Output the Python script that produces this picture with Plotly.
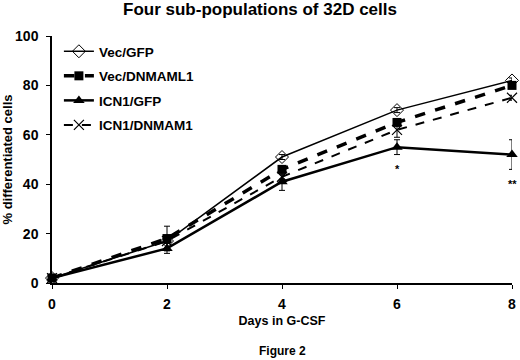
import plotly.graph_objects as go

days = [0, 2, 4, 6, 8]
series_names = ["Vec/GFP", "Vec/DNMAML1", "ICN1/GFP", "ICN1/DNMAM1"]
vec_gfp = [2, 17, 51, 70, 82]
vec_dnmaml1 = [2, 18, 46, 65, 80]
icn1_gfp = [2, 14, 41, 55, 52]
icn1_dnmam1 = [2, 17, 43, 62, 75]
vec_gfp_err = [1, 1, 1, 1, 1]
vec_dnmaml1_err = [1, 5, 1, 1, 1]
icn1_gfp_err = [1, 2, 3.5, 3, 6]
icn1_dnmam1_err = [1, 1, 1, 3, 1]
sig_days = [6, 8]
sig_labels = ["*", "**"]
sig_y = [46, 40]
y_ticks = [0, 20, 40, 60, 80, 100]

font_family = "Liberation Sans, Arial, sans-serif"

styles = [
    dict(line=dict(color="black", width=1.5), marker=dict(symbol="diamond-open", size=10, color="black", line=dict(width=1))),
    dict(line=dict(color="black", width=3.5, dash="dash"), marker=dict(symbol="square", size=9, color="black")),
    dict(line=dict(color="black", width=2.5), marker=dict(symbol="triangle-up", size=10, color="black")),
    dict(line=dict(color="black", width=2, dash="dash"), marker=dict(symbol="x-thin-open", size=10, color="black", line=dict(width=1.2, color="black"))),
]
values = [vec_gfp, vec_dnmaml1, icn1_gfp, icn1_dnmam1]
errs = [vec_gfp_err, vec_dnmaml1_err, icn1_gfp_err, icn1_dnmam1_err]

fig = go.Figure()
for name, vals, err, st in zip(series_names, values, errs, styles):
    fig.add_trace(go.Scatter(
        x=days, y=vals, name="<b>" + name + "</b>", mode="lines+markers",
        line=st["line"], marker=st["marker"],
        error_y=dict(type="data", array=err, color="black", thickness=1, width=3),
        cliponaxis=False, legendgroup=name,
    ))

for d, lab, yy in zip(sig_days, sig_labels, sig_y):
    fig.add_annotation(x=d, y=yy, text="<b>" + lab + "</b>", showarrow=False,
                       font=dict(size=11, color="black", family=font_family))

fig.update_layout(
    width=520, height=360,
    margin=dict(l=52, r=8, t=36, b=77),
    paper_bgcolor="white", plot_bgcolor="white",
    font=dict(family=font_family, color="black", size=12),
    title=dict(text="<b>Four sub-populations of 32D cells</b>", x=0.5, xanchor="center",
               y=1 - 9 / 360, yanchor="middle", font=dict(size=17)),
    showlegend=True,
    legend=dict(x=0.015, y=1.0, xanchor="left", yanchor="top", bgcolor="rgba(0,0,0,0)",
                traceorder="grouped", tracegroupgap=4, itemwidth=30,
                font=dict(size=13.5)),
    xaxis=dict(range=[0, 8], tickvals=days, ticktext=["<b>%d</b>" % d for d in days],
               showline=True, linecolor="black", linewidth=1.5, ticks="outside",
               ticklen=4, tickcolor="black", showgrid=False, zeroline=False,
               tickfont=dict(size=14), automargin=False, ticklabelstandoff=3,
               title=dict(text="<b>Days in G-CSF</b>", standoff=6, font=dict(size=12.5))),
    yaxis=dict(range=[0, 100], tickvals=y_ticks,
               ticktext=["<b>%d</b>" % v for v in y_ticks],
               showline=True, linecolor="black", linewidth=1.5, ticks="outside",
               ticklen=4, tickcolor="black", showgrid=False, zeroline=False,
               tickfont=dict(size=14), automargin=False, ticklabelstandoff=5,
               title=dict(text="<b>% differentiated cells</b>", standoff=3, font=dict(size=13))),
)
fig.add_annotation(x=0.5, y=-(351 - 283) / 247, xref="paper", yref="paper", yanchor="middle",
                   text="<b>Figure 2</b>", showarrow=False, font=dict(size=12))

fig.write_html("out.html", config={"displayModeBar": False},
               post_script="document.body.style.margin='0';")
